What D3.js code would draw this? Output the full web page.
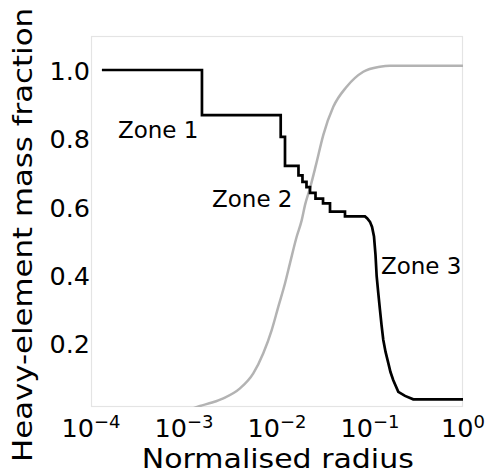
<!DOCTYPE html>
<html><head><meta charset="utf-8">
<script src="https://cdn.jsdelivr.net/npm/d3@7"></script>
<style>body{margin:0;background:#fff}svg{display:block}text{font-family:"DejaVu Sans",sans-serif}</style>
</head><body><svg id="c" width="489" height="476"></svg>
<script>
// Heavy-element mass fraction (black) - step profile then smooth decline
const blackRadius = [1.31e-4,1.56e-3,1.56e-3,0.01096,0.01096,0.01219,0.01219,0.01702,0.01702,0.01879,0.01879,0.02075,0.02075,0.02265,0.02265,0.02594,0.02594,0.03126,0.03126,0.03715,0.03715,0.05383,0.05383,0.0883,0.0935,0.1,0.1052,0.1104,0.1146,0.118,0.1233,0.128,0.133,0.139,0.147,0.1574,0.166,0.178,0.2015,0.238,0.292,1.0];
const blackFraction = [1.0,1.0,0.868,0.868,0.804,0.804,0.719,0.719,0.691,0.691,0.672,0.672,0.657,0.657,0.640,0.640,0.623,0.623,0.609,0.609,0.585,0.585,0.571,0.571,0.565,0.555,0.540,0.512,0.458,0.395,0.341,0.297,0.253,0.209,0.174,0.141,0.115,0.091,0.057,0.045,0.035,0.035];
// Grey sigmoid curve
const greyRadius = [1.026e-3,1.486e-3,2.0e-3,2.65e-3,4.0e-3,5.56e-3,7.12e-3,8.77e-3,0.01032,0.0122,0.0138,0.0163,0.01845,0.02,0.02265,0.02625,0.0315,0.0403,0.0561,0.0847,0.128,0.164,1.0];
const greyFraction = [0.0,0.0154,0.0256,0.038,0.067,0.111,0.170,0.238,0.306,0.375,0.434,0.512,0.560,0.604,0.654,0.722,0.810,0.892,0.951,0.995,1.0097,1.0126,1.0126];
const xTickExps = [-4,-3,-2,-1,0];
const yTicks = [0.2,0.4,0.6,0.8,1.0];
const zoneLabels = ["Zone 1","Zone 2","Zone 3"];
const zoneRadius = [1.95e-4, 2.0e-3, 0.1312];
const zoneFraction = [0.800, 0.5994, 0.402];

const svg = d3.select("#c");
const L=91,R=463,T=36,B=407;
const x = d3.scaleLog().domain([1e-4,1]).range([L,R]);
const y = d3.scaleLinear().domain([0.0125,1.0996]).range([B,T]);

svg.append("defs").append("clipPath").attr("id","clip")
  .append("rect").attr("x",L).attr("y",T).attr("width",R-L).attr("height",B-T);

svg.append("rect").attr("x",L+0.5).attr("y",T+0.5).attr("width",R-L-1).attr("height",B-T-1)
  .attr("fill","none").attr("stroke","#e4e4e4").attr("stroke-width",1.2);

const g = svg.append("g").attr("clip-path","url(#clip)");
g.append("path").datum(greyRadius.map((r,i)=>[r,greyFraction[i]]))
  .attr("d",d3.line().x(d=>x(d[0])).y(d=>y(d[1])).curve(d3.curveMonotoneX))
  .attr("fill","none").attr("stroke","#b3b3b3").attr("stroke-width",2.5);
g.append("path").datum(blackRadius.map((r,i)=>[r,blackFraction[i]]))
  .attr("d",d3.line().x(d=>x(d[0])).y(d=>y(d[1])))
  .attr("fill","none").attr("stroke","#000").attr("stroke-width",2.7)
  .attr("stroke-linejoin","miter");

// x ticks
const xt = svg.append("g");
xTickExps.forEach(e=>{
  const t = xt.append("text").attr("x",x(Math.pow(10,e))).attr("y",436.7)
    .attr("text-anchor","middle").attr("font-size",25.5).attr("fill","#000");
  t.append("tspan").text("10");
  t.append("tspan").attr("dy",-8.4).attr("font-size",18).text(e<0?"\u2212"+(-e):String(e));
});
// y ticks
svg.append("g").selectAll("text").data(yTicks).join("text")
  .attr("x",90).attr("y",d=>y(d)+10).attr("text-anchor","end")
  .attr("font-size",25.5).attr("fill","#000").text(d=>d3.format(".1f")(d));

// zone labels
svg.append("g").selectAll("text").data(zoneLabels).join("text")
  .attr("x",(d,i)=>x(zoneRadius[i])).attr("y",(d,i)=>y(zoneFraction[i]))
  .attr("font-size",23).attr("fill","#000").text(d=>d);

// axis titles
svg.append("text").attr("x",277.8).attr("y",468.3).attr("text-anchor","middle")
  .attr("font-size",27).attr("textLength",272).attr("lengthAdjust","spacingAndGlyphs")
  .attr("fill","#000").text("Normalised radius");
svg.append("text").attr("transform","translate(31.7,235) rotate(-90)")
  .attr("text-anchor","middle").attr("font-size",26.5).attr("textLength",454)
  .attr("lengthAdjust","spacingAndGlyphs").attr("fill","#000")
  .text("Heavy-element mass fraction");
</script></body></html>
